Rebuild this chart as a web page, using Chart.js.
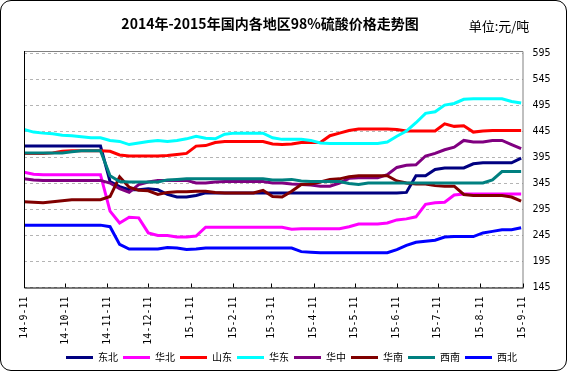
<!DOCTYPE html>
<html>
<head>
<meta charset="utf-8">
<script src="https://cdn.jsdelivr.net/npm/chart.js@4.4.0/dist/chart.umd.min.js"></script>
<style>
  html, body { margin: 0; padding: 0; background: #fff; overflow: hidden; }
  #wrap { position: relative; width: 567px; height: 371px; }
  #frame { position: absolute; left: 0; top: 0; width: 565px; height: 369px; border: 1px solid #000; border-radius: 11px; pointer-events: none; }
  canvas { position: absolute; left: 0; top: 0; }
</style>
</head>
<body>
<div id="wrap">
  <canvas id="priceChart" width="567" height="371"></canvas>
  <div id="frame"></div>
</div>
<script>
// month labels on the x axis (yy-m-d)
const tickLabels = ['14-9-11', '14-10-11', '14-11-11', '14-12-11', '15-1-11', '15-2-11', '15-3-11',
                    '15-4-11', '15-5-11', '15-6-11', '15-7-11', '15-8-11', '15-9-11'];
const yTicks = [145, 195, 245, 295, 345, 395, 445, 495, 545, 595];

const regions = ['东北', '华北', '山东', '华东', '华中', '华南', '西南', '西北'];
const colors = ['#000080', '#FF00FF', '#FF0000', '#00FFFF', '#800080', '#800000', '#008080', '#0000FF'];

// weekly prices (元/吨), first week 2014-9-11
const dongbei = [417, 417, 417, 417, 417, 417, 417, 417, 417, 349, 339, 333, 333, 335, 333, 324, 319, 319, 322,
                 327, 327, 327, 327, 327, 327, 327, 327, 327, 327, 327, 327, 327, 327, 327, 327, 327, 327, 327, 327,
                 327, 328, 360, 360, 372, 375, 375, 375, 383, 385, 385, 385, 385, 394];
const huabei = [367, 363, 362, 362, 362, 362, 362, 362, 362, 292, 269, 280, 279, 250, 245, 245, 242, 242, 244,
                261, 261, 261, 261, 261, 261, 261, 261, 261, 257, 258, 258, 258, 258, 258, 262, 267, 267, 267, 269,
                275, 277, 281, 305, 308, 309, 323, 325, 325, 325, 325, 325, 325, 325];
const shandong = [403, 403, 403, 404, 407, 408, 408, 408, 408, 407, 400, 398, 398, 398, 398, 399, 401, 403, 417,
                  418, 424, 426, 426, 426, 426, 426, 421, 420, 421, 424, 424, 424, 437, 442, 447, 450, 450, 450, 450,
                  449, 446, 446, 446, 446, 460, 455, 456, 444, 446, 447, 447, 447, 447];
const huadong = [449, 444, 442, 441, 438, 437, 435, 433, 433, 428, 426, 420, 423, 426, 428, 426, 428, 431, 436,
                 432, 431, 440, 442, 442, 442, 442, 433, 430, 430, 430, 428, 423, 422, 422, 422, 422, 422, 422, 425,
                 436, 446, 462, 480, 483, 496, 499, 507, 508, 508, 508, 508, 503, 500];
const huazhong = [354, 352, 351, 351, 351, 351, 351, 351, 351, 346, 335, 328, 343, 348, 351, 351, 351, 351, 346,
                  346, 348, 349, 349, 349, 349, 349, 346, 346, 344, 343, 342, 340, 340, 346, 355, 356, 356, 356, 362,
                  376, 380, 381, 398, 403, 410, 415, 428, 425, 425, 428, 428, 420, 412];
const huanan = [310, 309, 308, 310, 312, 314, 314, 314, 314, 320, 358, 338, 332, 331, 324, 328, 329, 329, 330,
                330, 328, 327, 327, 327, 327, 332, 320, 319, 330, 343, 344, 348, 353, 354, 358, 360, 360, 360, 360,
                350, 346, 344, 344, 341, 340, 340, 324, 322, 322, 322, 322, 319, 311];
const xinan = [404, 404, 404, 404, 404, 406, 408, 408, 408, 360, 349, 348, 348, 348, 348, 352, 353, 354, 354,
               354, 354, 354, 354, 354, 354, 354, 352, 352, 353, 350, 349, 349, 349, 349, 345, 343, 346, 346, 346,
               346, 346, 346, 346, 346, 346, 346, 346, 346, 346, 352, 368, 368, 368];
const xibei = [265, 265, 265, 265, 265, 265, 265, 265, 265, 262, 228, 219, 219, 219, 219, 222, 221, 218, 219,
               221, 221, 221, 221, 221, 221, 221, 221, 221, 221, 214, 213, 212, 212, 212, 212, 212, 212, 212, 212,
               218, 226, 232, 234, 236, 242, 243, 243, 243, 250, 253, 256, 256, 260];

const seriesList = [dongbei, huabei, shandong, huadong, huazhong, huanan, xinan, xibei];

const CJK = "'Noto Sans CJK SC', sans-serif";
const MONO = "'DejaVu Sans Mono', monospace";

function dayOf(label) {
    const [y, m, d] = label.split('-').map(Number);
    return Math.round((Date.UTC(2000 + y, m - 1, d) - Date.UTC(2014, 8, 11)) / 86400000);
}
const tickDays = tickLabels.map(dayOf);

// plot frame, inner tick marks and header texts
const framePlugin = {
    id: 'framePlugin',
    afterDatasetsDraw(chart) {
        const { ctx, chartArea: a } = chart;
        const xs = chart.scales.x;
        ctx.save();
        ctx.lineWidth = 1;
        ctx.strokeStyle = '#808080';
        ctx.beginPath();
        ctx.moveTo(a.left, a.top + 0.5);
        ctx.lineTo(a.right + 0.5, a.top + 0.5);
        ctx.lineTo(a.right + 0.5, a.bottom);
        ctx.stroke();
        ctx.strokeStyle = '#000';
        ctx.beginPath();
        ctx.moveTo(a.left + 0.5, a.top);
        ctx.lineTo(a.left + 0.5, a.bottom + 0.5);
        ctx.lineTo(a.right + 1, a.bottom + 0.5);
        tickDays.forEach(d => {
            const px = Math.round(xs.getPixelForValue(d)) + 0.5;
            ctx.moveTo(px, a.bottom);
            ctx.lineTo(px, a.bottom - 4);
        });
        ctx.stroke();
        ctx.restore();
    },
    afterDraw(chart) {
        const ctx = chart.ctx;
        ctx.save();
        ctx.fillStyle = '#000';
        ctx.textBaseline = 'middle';
        ctx.textAlign = 'center';
        ctx.font = "bold 14px " + CJK;
        ctx.fillText('2014年-2015年国内各地区98%硫酸价格走势图', 270, 24);
        ctx.font = "13px " + CJK;
        ctx.fillText('单位:元/吨', 499, 26);
        ctx.restore();
    }
};

const ctx = document.getElementById('priceChart').getContext('2d');
new Chart(ctx, {
    type: 'line',
    data: {
        datasets: regions.map((name, k) => ({
            label: name,
            data: seriesList[k].map((v, i) => ({ x: i * 7, y: v })),
            borderColor: colors[k],
            backgroundColor: colors[k],
            borderWidth: 3,
            pointRadius: 0,
            tension: 0,
            fill: false,
            order: regions.length - k
        }))
    },
    options: {
        responsive: false,
        animation: false,
        devicePixelRatio: 1,
        layout: { padding: { left: 24, right: 8, top: 51, bottom: -1.5 } },
        plugins: {
            legend: {
                position: 'bottom',
                labels: {
                    font: { size: 10, family: CJK },
                    color: '#000',
                    usePointStyle: true,
                    pointStyle: 'line',
                    pointStyleWidth: 27,
                    boxHeight: 10,
                    padding: 5,
                    sort: (a, b) => a.datasetIndex - b.datasetIndex
                }
            },
            tooltip: { enabled: false }
        },
        scales: {
            x: {
                type: 'linear',
                min: 0,
                max: 365,
                grid: { display: false, drawTicks: false },
                border: { display: false },
                afterBuildTicks: s => { s.ticks = tickDays.map(v => ({ value: v })); },
                afterFit: s => { s.height = 60; },
                ticks: {
                    autoSkip: false,
                    maxRotation: 90,
                    minRotation: 90,
                    padding: 9,
                    color: '#000',
                    font: { size: 10, family: MONO },
                    callback: (v, i) => tickLabels[i]
                }
            },
            y: {
                position: 'right',
                min: 145,
                max: 600,
                afterBuildTicks: s => { s.ticks = yTicks.map(v => ({ value: v })); },
                afterFit: s => { s.width = 36.5; },
                grid: { color: '#b4b4b4', drawTicks: false },
                border: { display: false, dash: [3, 3] },
                ticks: {
                    padding: 10,
                    color: '#000',
                    font: { size: 10, family: MONO }
                }
            }
        }
    },
    plugins: [framePlugin]
});
</script>
</body>
</html>
